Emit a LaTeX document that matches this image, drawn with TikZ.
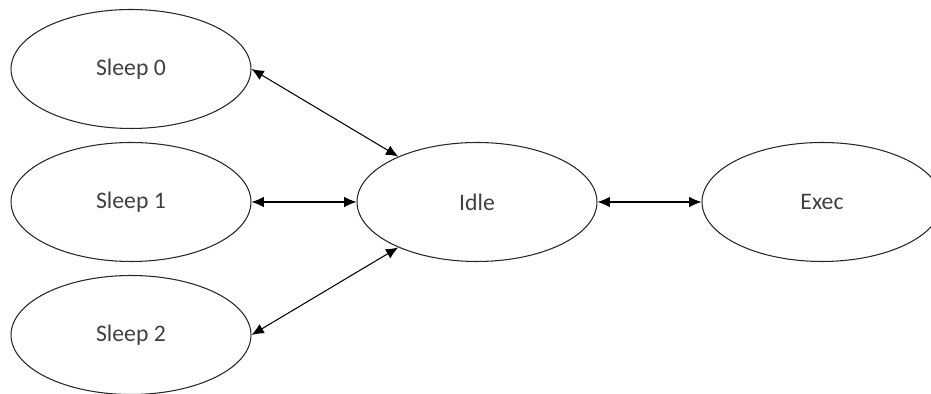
\documentclass[tikz,border=0pt]{standalone}
\usepackage{fontspec}
\setmainfont{Carlito}
\usetikzlibrary{shapes.geometric, arrows.meta}

\begin{document}
\begin{tikzpicture}[
		x=0.02cm, y=-0.02cm,
		% Node styles
		stateNode/.style={ellipse, draw=black!85, line width=0.6pt, minimum width=4.8cm, minimum height=2.38cm, inner sep=0pt, font=\fontsize{13.5}{16}\selectfont, text=black!75},
		% Line styles
		transLine/.style={line width=0.6pt, {Latex[length=7pt,width=6pt]}-{Latex[length=7pt,width=6pt]}}
		]
		
		\useasboundingbox (0,0) rectangle (931,394);
		
		% States
		\node[stateNode] (sleep0) at (131,69) {Sleep 0};
		\node[stateNode] (sleep1) at (131,202) {Sleep 1};
		\node[stateNode] (sleep2) at (131,335) {Sleep 2};
		\node[stateNode] (idle) at (477,202) {Idle};
		\node[stateNode] (exec) at (822,202) {Exec};
		
		% Transitions
		\draw[transLine] (sleep0.east) -- (idle.150);
		\draw[transLine] (sleep1) -- (idle);
		\draw[transLine] (sleep2.east) -- (idle.210);
		\draw[transLine] (idle) -- (exec);
		
\end{tikzpicture}
\end{document}
